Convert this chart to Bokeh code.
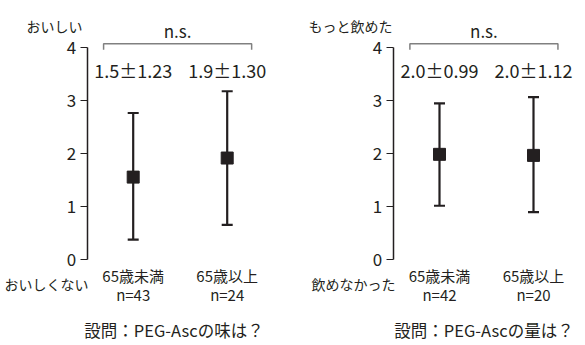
from bokeh.plotting import figure
from bokeh.models import ColumnDataSource, Whisker, TeeHead, Range1d, FixedTicker
from bokeh.layouts import row
from bokeh.core.properties import value
from bokeh.embed import file_html
from bokeh.resources import INLINE

# ---- data ----
groups = ["65歳未満", "65歳以上"]
taste_n = ["n=43", "n=24"]
taste_mean = [1.56, 1.92]
taste_upper = [2.77, 3.18]
taste_lower = [0.38, 0.66]
taste_stats = ["1.5±1.23", "1.9±1.30"]

volume_n = ["n=42", "n=20"]
volume_mean = [1.99, 1.97]
volume_upper = [2.95, 3.07]
volume_lower = [1.02, 0.90]
volume_stats = ["2.0±0.99", "2.0±1.12"]

y_ticks = [0, 1, 2, 3, 4]

FONT = "Noto Sans CJK JP"
INK = "#231f20"
PX = 94.0   # pixels per x unit
PY = 53.0   # pixels per y unit
H = 345


def txt(p, x, y, s, size, align="center"):
    p.text(x=[x], y=[y], text=[s], text_font=value(FONT), text_font_size=size,
           text_color=INK, text_align=align, text_baseline="middle")


def panel(width, first_px, axis_x, means, upper, lower, stats, ns,
          top_label, top_lab_x, bottom_label, bottom_lab_x, title, title_x):
    x_start = 1 - first_px / PX
    p = figure(width=width, height=H, output_backend="svg", toolbar_location=None,
               x_axis_location=None, y_axis_location="left",
               x_range=Range1d(x_start, x_start + width / PX),
               y_range=Range1d(-(H - 259.3) / PY, 4 + 47.3 / PY),
               min_border_left=0, min_border_right=0,
               min_border_top=0, min_border_bottom=0)
    p.outline_line_color = None
    p.xgrid.visible = False
    p.ygrid.visible = False
    ax = p.yaxis[0]
    ax.fixed_location = axis_x
    ax.bounds = (0, 4)
    ax.ticker = FixedTicker(ticks=y_ticks)
    ax.minor_tick_line_color = None
    ax.major_tick_in = 0
    ax.major_tick_out = 7
    ax.axis_line_color = INK
    ax.axis_line_width = 1.5
    ax.major_tick_line_color = INK
    ax.major_tick_line_width = 1.2
    ax.major_label_text_font = FONT
    ax.major_label_text_font_size = "17px"
    ax.major_label_text_color = INK
    ax.major_label_standoff = 4

    xs = [i + 1 for i in range(len(means))]
    src = ColumnDataSource(dict(x=xs, mean=means, upper=upper, lower=lower,
                                stats=stats, grp=groups, n=ns))

    w = Whisker(source=src, base="x", upper="upper", lower="lower",
                line_color=INK, line_width=2.2,
                upper_head=TeeHead(size=11, line_color=INK, line_width=2.2),
                lower_head=TeeHead(size=11, line_color=INK, line_width=2.2))
    p.add_layout(w)
    p.scatter("x", "mean", source=src, marker="square", size=12,
              fill_color=INK, line_color=INK)

    p.text("x", 3.59, text="stats", source=src, text_font=value(FONT),
           text_font_size="18px", text_color=INK, text_align="center",
           text_baseline="middle")
    p.text("x", -0.296, text="grp", source=src, text_font=value(FONT),
           text_font_size="15px", text_color=INK, text_align="center",
           text_baseline="middle")
    p.text("x", -0.655, text="n", source=src, text_font=value(FONT),
           text_font_size="15px", text_color=INK, text_align="center",
           text_baseline="middle")

    # bracket with n.s.
    bx0 = xs[0] - 0.315
    bx1 = xs[-1] + 0.26
    p.line([bx0, bx0, bx1, bx1], [3.962, 4.075, 4.075, 3.962],
           line_color="#808080", line_width=1.5)
    txt(p, (bx0 + bx1) / 2, 4.326, "n.s.", "17px")

    txt(p, top_lab_x, 4.42, top_label, "14px", "right")
    txt(p, bottom_lab_x, -0.46, bottom_label, "14px", "right")
    txt(p, title_x, -1.33, title, "16.5px")
    return p


p1 = panel(300, 132.7, 0.511, taste_mean, taste_upper, taste_lower, taste_stats,
           taste_n, "おいしい", 0.461, "おいしくない", 0.525,
           "設問：PEG-Ascの味は？", 1.434)
p2 = panel(285, 139.0, 0.507, volume_mean, volume_upper, volume_lower, volume_stats,
           volume_n, "もっと飲めた", 0.50, "飲めなかった", 0.532,
           "設問：PEG-Ascの量は？", 1.473)

layout = row(p1, p2)
open("out.html", "w").write(file_html(layout, INLINE))
